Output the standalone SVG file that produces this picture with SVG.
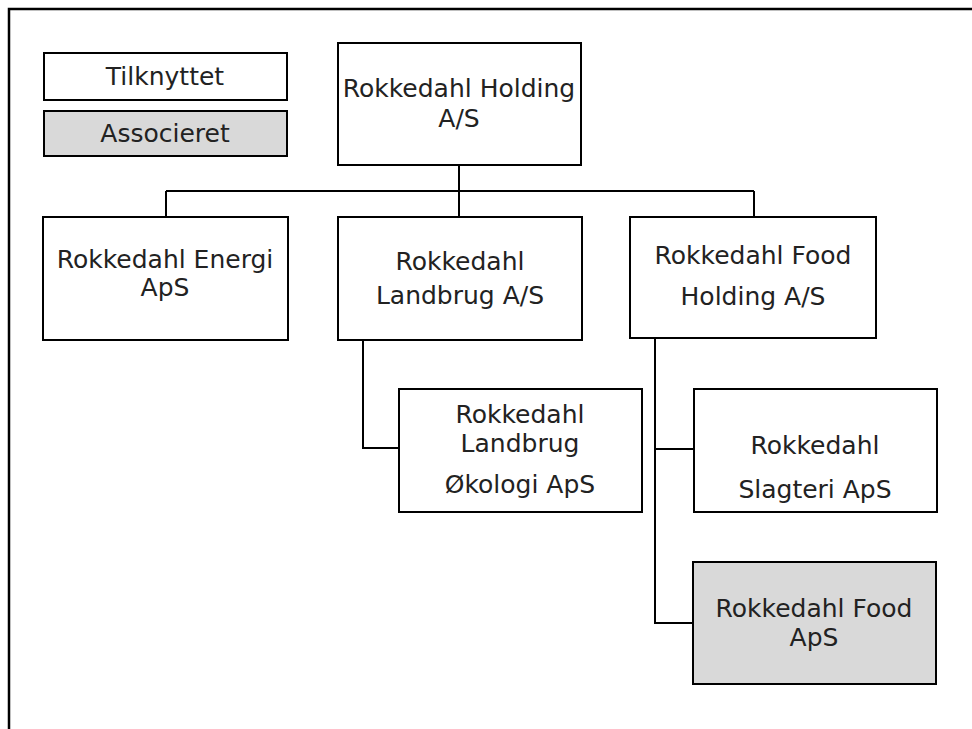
<svg xmlns="http://www.w3.org/2000/svg" width="972" height="729" viewBox="0 0 972 729">
<style>
.box{fill:#fff;stroke:#000;stroke-width:2}
.assoc{fill:#d9d9d9;stroke:#000;stroke-width:2}
.conn{fill:none;stroke:#000;stroke-width:2}
text{font-family:"DejaVu Sans","Liberation Sans",sans-serif;font-size:25px;fill:#222;text-anchor:middle}
</style>
<rect width="972" height="729" fill="#fff"/>
<path d="M990 9 H9 V740" fill="none" stroke="#000" stroke-width="2.5"/>
<g id="legend-tilknyttet"><rect class="box" x="44" y="53" width="243" height="47"/><text x="165" y="85">Tilknyttet</text></g>
<g id="legend-associeret"><rect class="assoc" x="44" y="111" width="243" height="45"/><text x="165" y="142">Associeret</text></g>
<g id="connectors">
<path class="conn" d="M459 165 V217 M166 191 H754 M166 191 V217 M754 191 V217"/>
<path class="conn" d="M363 340 V448 H399"/>
<path class="conn" d="M655 338 V623 H693 M655 449 H694"/>
</g>
<g id="holding"><rect class="box" x="338" y="43" width="243" height="122"/><text x="459" y="97">Rokkedahl Holding</text><text x="459" y="127">A/S</text></g>
<g id="energi"><rect class="box" x="43" y="217" width="245" height="123"/><text x="165" y="268">Rokkedahl Energi</text><text x="165" y="296">ApS</text></g>
<g id="landbrug"><rect class="box" x="338" y="217" width="244" height="123"/><text x="460" y="270">Rokkedahl</text><text x="460" y="304">Landbrug A/S</text></g>
<g id="food-holding"><rect class="box" x="630" y="217" width="246" height="121"/><text x="753" y="264">Rokkedahl Food</text><text x="753" y="305">Holding A/S</text></g>
<g id="okologi"><rect class="box" x="399" y="389" width="243" height="123"/><text x="520" y="423">Rokkedahl</text><text x="520" y="452">Landbrug</text><text x="520" y="493">Økologi ApS</text></g>
<g id="slagteri"><rect class="box" x="694" y="389" width="243" height="123"/><text x="815" y="454">Rokkedahl</text><text x="815" y="498">Slagteri ApS</text></g>
<g id="food-aps"><rect class="assoc" x="693" y="562" width="243" height="122"/><text x="814" y="617">Rokkedahl Food</text><text x="814" y="646">ApS</text></g>
</svg>
